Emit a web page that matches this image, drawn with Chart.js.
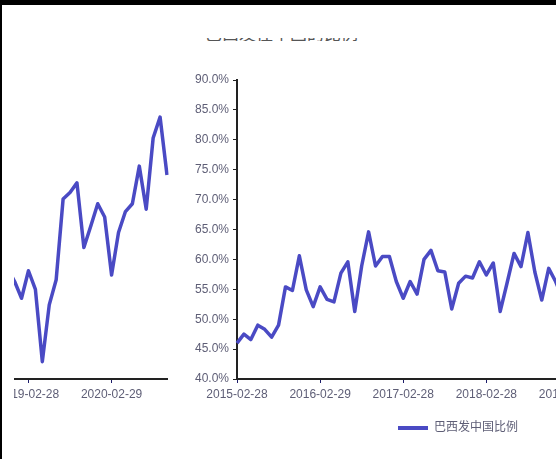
<!DOCTYPE html>
<html>
<head>
<meta charset="utf-8">
<script src="https://cdn.jsdelivr.net/npm/chart.js@4"></script>
<style>
  body { margin: 0; width: 556px; height: 459px; overflow: hidden; background: #fff; position: relative; }
  #main { position: absolute; left: 180px; top: 0; }
  #tail { position: absolute; left: 14px; top: 0; width: 166px; height: 459px; overflow: hidden; background: #fff; }
  #tail canvas { position: absolute; left: -375px; top: 0; }
  .bar-top { position: absolute; left: 0; top: 0; width: 556px; height: 5px; background: #000; z-index: 5; }
  .bar-left { position: absolute; left: 0; top: 0; width: 2px; height: 459px; background: #000; z-index: 5; }
  .titre { position: absolute; left: 205px; top: 38px; width: 330px; height: 3px; overflow: hidden; }
  .titre span { position: absolute; left: 0; top: -14px; font: 17px/17px "Noto Sans CJK SC", sans-serif; color: #555; white-space: nowrap; }
</style>
</head>
<body>
<div class="bar-top"></div>
<div class="bar-left"></div>
<div class="titre"><span>巴西发往中国的比例</span></div>
<canvas id="main" width="554" height="459"></canvas>
<div id="tail"><canvas id="tailCanvas" width="554" height="459"></canvas></div>
<script>
// Libellés mensuels (fin de mois), de 2015-02 à 2020-10
const annees = [2015, 2016, 2017, 2018, 2019, 2020];
const mois = [];
for (const a of annees) {
    for (let m = 1; m <= 12; m++) {
        if (a === 2015 && m < 2) continue;
        if (a === 2020 && m > 10) continue;
        const fin = new Date(Date.UTC(a, m, 0)).getUTCDate();
        mois.push(`${a}-${String(m).padStart(2, "0")}-${String(fin).padStart(2, "0")}`);
    }
}

// Part des exportations du Brésil vers la Chine (%)
const valeurs2015 = [46.0, 47.5, 46.6, 49.0, 48.3, 47.0, 49.0, 55.4, 54.8, 60.6, 54.9];
const valeurs2016 = [52.1, 55.4, 53.3, 52.9, 57.7, 59.6, 51.3, 58.9, 64.6, 58.9, 60.5, 60.5];
const valeurs2017 = [56.3, 53.5, 56.3, 54.2, 60.0, 61.5, 58.1, 57.9, 51.7, 56.0, 57.2, 56.9];
const valeurs2018 = [59.6, 57.4, 59.4, 51.3, 56.1, 61.0, 58.8, 64.5, 57.9, 53.2, 58.5, 56.3];
const valeurs2019 = [53.5, 58.1, 55.0, 42.9, 52.4, 56.6, 70.1, 71.2, 72.8, 62.0, 65.6, 69.3];
const valeurs2020 = [67.1, 57.4, 64.5, 68.0, 69.3, 75.6, 68.4, 80.3, 83.8, 74.1];
const valeurs = [...valeurs2015, ...valeurs2016, ...valeurs2017, ...valeurs2018, ...valeurs2019, ...valeurs2020];

const nomSerie = "巴西发中国比例";
const couleur = "#4a4ac4";
const police = 'Arial, "Liberation Sans", "Noto Sans CJK SC", sans-serif';
const gris = "#5e5e76";

// Décalage horizontal de la légende
const decalageLegende = {
    id: "decalageLegende",
    afterLayout(chart) {
        chart.legend.left += 14;
        chart.legend.right += 14;
    },
};

function creerGraphique(canvas) {
    return new Chart(canvas, {
        type: "line",
        data: {
            labels: mois,
            datasets: [{
                label: nomSerie,
                data: valeurs,
                borderColor: couleur,
                backgroundColor: couleur,
                borderWidth: 3.5,
                borderJoinStyle: "round",
                pointRadius: 0,
                tension: 0,
            }],
        },
        options: {
            responsive: false,
            animation: false,
            layout: { padding: { left: 0, top: 80, right: 26, bottom: 15 } },
            scales: {
                x: {
                    grid: { drawOnChartArea: false, drawTicks: true, tickLength: 4, color: "#1c1c6a" },
                    border: { color: "#222", width: 2 },
                    ticks: { autoSkip: false, maxRotation: 0, padding: 4, color: gris, font: { family: police, size: 12 } },
                    afterBuildTicks: (scale) => {
                        scale.ticks = scale.ticks.filter(t => t.value % 12 === 0);
                    },
                    afterFit: (scale) => { scale.height = 33; },
                },
                y: {
                    min: 40,
                    max: 90,
                    grid: { drawOnChartArea: false, drawTicks: true, tickLength: 4, color: "#222" },
                    border: { color: "#222", width: 2 },
                    ticks: {
                        stepSize: 5,
                        padding: 4,
                        color: gris,
                        font: { family: police, size: 12 },
                        callback: (v) => v.toFixed(1) + "%",
                    },
                    afterFit: (scale) => { scale.width = 57; },
                },
            },
            plugins: {
                legend: {
                    position: "bottom",
                    labels: {
                        boxWidth: 30,
                        boxHeight: 4,
                        padding: 10,
                        color: gris,
                        font: { family: police, size: 12 },
                        generateLabels: (chart) => Chart.defaults.plugins.legend.labels.generateLabels(chart)
                            .map(l => ({ ...l, lineWidth: 0 })),
                    },
                },
                tooltip: { enabled: false },
            },
        },
        plugins: [decalageLegende],
    });
}

creerGraphique(document.querySelector("#main"));
creerGraphique(document.querySelector("#tailCanvas"));
</script>
</body>
</html>
